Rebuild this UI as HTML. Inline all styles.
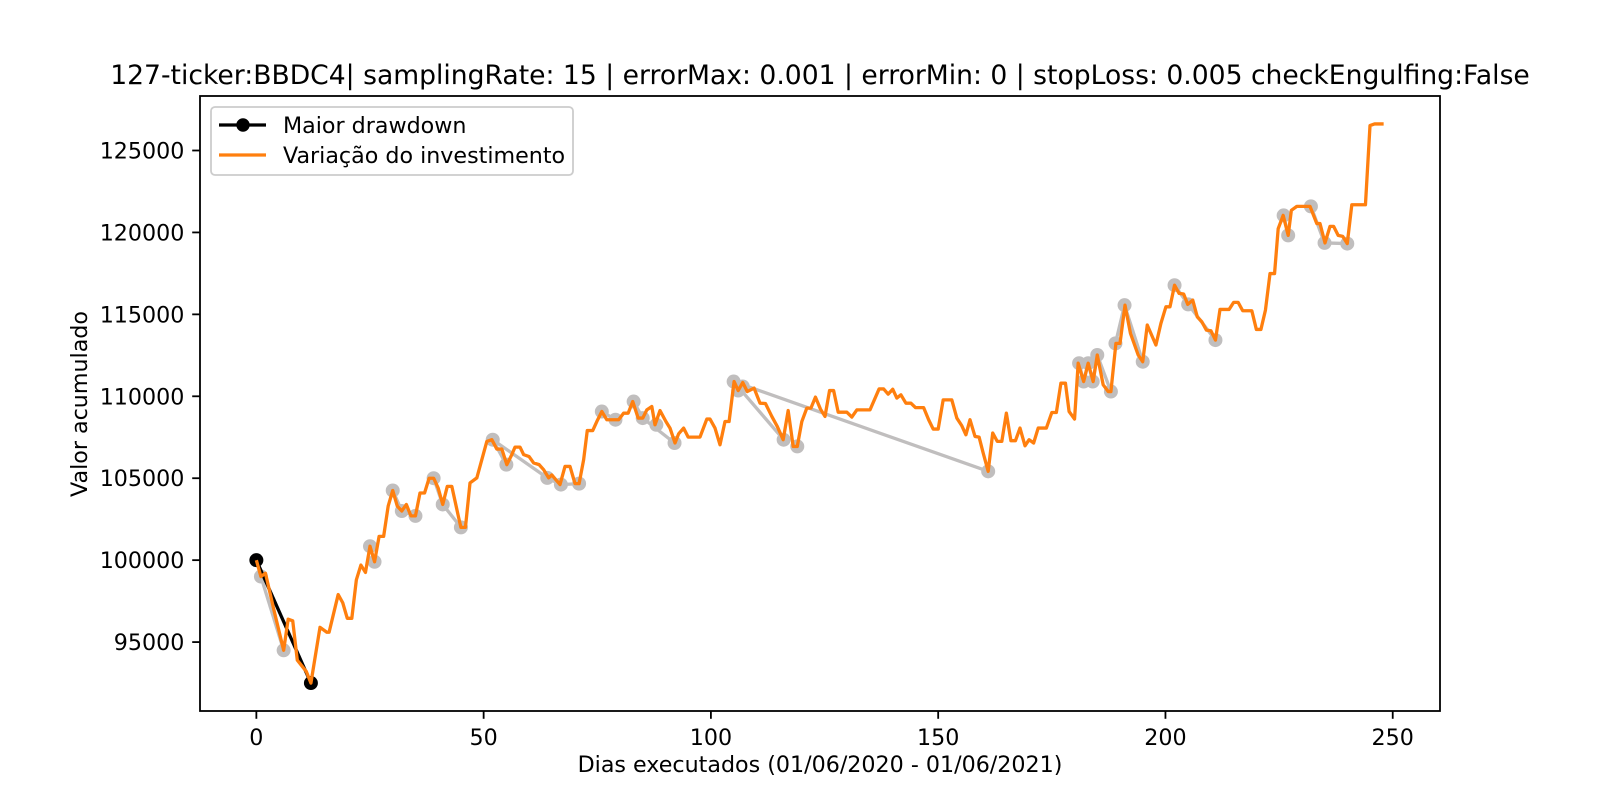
<!DOCTYPE html>
<html><head><meta charset="utf-8"><style>
html,body{margin:0;padding:0;background:#fff;}
svg{display:block;font-family:"DejaVu Sans","Liberation Sans",sans-serif;}
</style></head><body>
<svg id="chart" width="1600" height="800" viewBox="0 0 1600 800">
<rect x="0" y="0" width="1600" height="800" fill="#fff"/>
<text x="820" y="84" font-size="26.6" text-anchor="middle" fill="#000">127-ticker:BBDC4| samplingRate: 15 | errorMax: 0.001 | errorMin: 0 | stopLoss: 0.005 checkEngulfing:False</text>
<g id="marks"></g>
<g id="axes"></g>
<rect x="200" y="96" width="1240" height="615" fill="none" stroke="#000" stroke-width="1.8"/>
<text x="820" y="772" font-size="22.2" text-anchor="middle">Dias executados (01/06/2020 - 01/06/2021)</text>
<text x="0" y="0" font-size="22.2" text-anchor="middle" transform="translate(87,404) rotate(-90)">Valor acumulado</text>
<g>
<rect x="211" y="107" width="362" height="68" rx="4" fill="#fff" fill-opacity="0.8" stroke="#ccc" stroke-width="1.8"/>
<line x1="219" y1="125" x2="266" y2="125" stroke="#000" stroke-width="3.3"/>
<circle cx="243" cy="125" r="6.7" fill="#000"/>
<text x="283" y="133" font-size="22.2">Maior drawdown</text>
<line x1="219" y1="155" x2="266" y2="155" stroke="#ff7f0e" stroke-width="3.3"/>
<text x="283" y="163" font-size="22.2">Variação do investimento</text>
</g>
</svg>
<script>
const days=[0,1,2,4,6,7,8,9,11,12,14,15.5,16,18,19,20,21,22,23,24,25,26,27,28,29,30,31,32,33,34,35,36,37,38,39,40,41,42,43,44.5,45,46,47,48.5,50.7,51.8,52.9,54,55.1,56.2,56.9,58,58.8,60,61,62.2,63.2,64.3,65,66,66.8,67.9,69,70.1,71,72,72.8,74,74.9,76,77.1,78,79.7,80.8,81.8,82.8,84,85,85.9,87,87.7,88.8,90.1,91,92.1,92.9,94,95,97.6,99.1,99.8,100.9,102,103.1,104,105.1,106,107,108,109.5,110.8,112,113.4,114.6,115.9,117,118.1,119,120,121.1,122,123,124.1,125.1,126.1,127,128,129.9,131,132.1,135,137,138,139,140,140.9,141.8,142.9,144,145,146.8,147.9,148.9,150,151.1,153,154.1,155.2,156.1,157,158.1,159,159.9,161,162,163,164,165,166,167,168,169.1,170,171,172,173.8,175,176,177,178,178.8,180,180.8,182,183,184.1,185,186.3,187.4,188,189.1,190,191.1,192.3,194,195,196,197.9,199,200.1,201,202,203,204,204.9,206,207,208,209,210,211,212,214,215,216,217,219,220,221,222,223,224,224.8,225.9,227,227.7,228.9,231.8,233.3,234,235.1,236.2,237,238,239,240,241,244,245,246,248];
const values=[100000,99000,99200,96800,94500,96400,96300,93900,93200,92500,95900,95600,95600,97900,97400,96450,96450,98800,99700,99250,100850,99900,101450,101450,103300,104250,103300,103000,103400,102700,102700,104100,104100,105000,105000,104400,103400,104500,104500,102600,102000,102000,104713,105020,107245,107350,106780,106780,105830,106440,106900,106900,106440,106320,105930,105830,105520,105020,105200,104870,104610,105720,105720,104670,104670,106130,107910,107910,108460,109070,108570,108570,108570,108970,108970,109680,108670,108670,109170,109375,108260,109130,108460,108060,107150,107710,108060,107510,107510,108610,108610,108060,107040,108460,108460,110900,110350,110840,110290,110500,109580,109560,108770,108160,107350,109130,106940,106940,108460,109280,109280,109950,109220,108770,110350,110350,109030,109030,108730,109170,109170,110450,110450,110130,110430,109890,110090,109580,109580,109310,109310,108570,108000,108000,109780,109780,108670,108200,107650,108570,107550,107510,106540,105420,107760,107250,107250,108970,107290,107290,108060,106980,107350,107150,108060,108060,109010,109010,110800,110800,109070,108610,112020,110900,112020,110900,112520,110700,110290,110290,113230,113230,115560,113840,112520,112110,114350,113130,114450,115460,115460,116780,116280,116240,115610,115870,114850,114550,114040,114000,113430,115300,115300,115730,115730,115220,115220,114080,114080,115260,117490,117490,120230,121040,119820,121350,121590,121590,120540,120540,119360,120370,120370,119820,119760,119320,121690,121690,126520,126620,126620];
const ddDays=[1,6,25,26,30,32,35,39,41,45,52,55,64,67,71,76,79,83,85,88,92,105,106,107,116,119,161,181,182,183,184,185,188,189,191,195,202,205,211,226,227,232,235,240];
const ddValues=[99000,94500,100850,99900,104250,103000,102700,105000,103400,102000,107350,105830,105020,104610,104670,109070,108570,109680,108670,108260,107150,110900,110350,110600,107350,106940,105420,112020,110900,112020,110900,112520,110290,113230,115560,112110,116780,115610,113430,121040,119820,121590,119360,119320];
const ddSegFrom=[0,2,4,5,7,8,10,10,12,13,15,17,18,21,21,22,27,28,29,30,31,33,34,36,37,39,41,42];
const ddSegTo=[1,3,5,6,8,9,11,12,13,14,16,18,20,24,26,23,28,29,30,31,32,34,35,37,38,40,42,43];
const maxDDDays=[0,12];
const maxDDValues=[100000,92500];
const xTicks=[0,50,100,150,200,250];
const yTicks=[95000,100000,105000,110000,115000,120000,125000];

const NS="http://www.w3.org/2000/svg";
const PL=200,PR=1440,PT=96,PB=711;
const allV=values.concat(ddValues,maxDDValues);
const vmin=Math.min(...allV),vmax=Math.max(...allV);
const allD=days.concat(ddDays,maxDDDays);
const dmin=Math.min(...allD),dmax=Math.max(...allD);
const y0=vmin-(vmax-vmin)*0.05,y1=vmax+(vmax-vmin)*0.05;
const x0=dmin-(dmax-dmin)*0.05,x1=dmax+(dmax-dmin)*0.05;
function X(d){return PL+(d-x0)/(x1-x0)*(PR-PL);}
function Y(v){return PB-(v-y0)/(y1-y0)*(PB-PT);}
function mk(tag,attrs,parent){const e=document.createElementNS(NS,tag);for(const k in attrs)e.setAttribute(k,attrs[k]);parent.appendChild(e);return e;}
const marks=document.getElementById('marks'),axes=document.getElementById('axes');

for(let i=0;i<ddSegFrom.length;i++){
  const a=ddSegFrom[i],b=ddSegTo[i];
  const l=mk('line',{x1:X(ddDays[a]),y1:Y(ddValues[a]),x2:X(ddDays[b]),y2:Y(ddValues[b]),stroke:'#c0bebe','stroke-width':3.3},marks);
  
  
}
for(let i=0;i<ddDays.length;i++){
  const c=mk('circle',{cx:X(ddDays[i]),cy:Y(ddValues[i]),r:7,fill:'#c0bebe'},marks);
  
  
}
const bl=mk('polyline',{points:maxDDDays.map((d,i)=>X(d)+','+Y(maxDDValues[i])).join(' '),fill:'none',stroke:'#000','stroke-width':3.3},marks);


for(let i=0;i<maxDDDays.length;i++){
  const c=mk('circle',{cx:X(maxDDDays[i]),cy:Y(maxDDValues[i]),r:7,fill:'#000'},marks);
  
  
}
const ol=mk('polyline',{points:days.map((d,i)=>X(d).toFixed(2)+','+Y(values[i]).toFixed(2)).join(' '),fill:'none',stroke:'#ff7f0e','stroke-width':3.3,'stroke-linejoin':'round'},marks);



xTicks.forEach(t=>{
  const x=X(t);
  const l=mk('line',{x1:x,y1:PB,x2:x,y2:PB+7.8,stroke:'#000','stroke-width':1.8},axes);
  
  
  const tx=mk('text',{x:x,y:745,'font-size':22.2,'text-anchor':'middle'},axes);
  tx.textContent=t;
  
  
});
yTicks.forEach(t=>{
  const y=Y(t);
  const l=mk('line',{x1:PL-7.8,y1:y,x2:PL,y2:y,stroke:'#000','stroke-width':1.8},axes);
  
  
  const tx=mk('text',{x:PL-15.6,y:y+8,'font-size':22.2,'text-anchor':'end'},axes);
  tx.textContent=t;
  
  
});
</script>
</body></html>
